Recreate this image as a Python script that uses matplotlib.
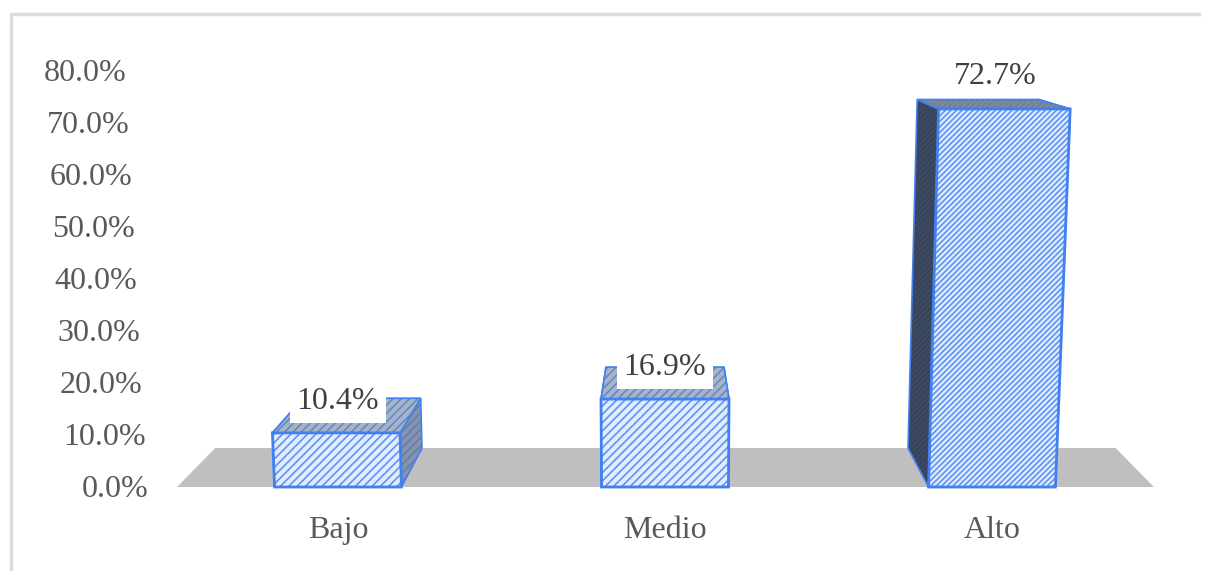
import matplotlib
matplotlib.use('Agg')
import matplotlib.pyplot as plt
from matplotlib.patches import Polygon
from matplotlib.lines import Line2D

categories = ['Bajo', 'Medio', 'Alto']
values = [10.4, 16.9, 72.7]
value_labels = ['10.4%', '16.9%', '72.7%']
y_ticks = [0, 10, 20, 30, 40, 50, 60, 70, 80]
y_tick_labels = ['0.0%', '10.0%', '20.0%', '30.0%', '40.0%', '50.0%', '60.0%', '70.0%', '80.0%']

TEXT = '#595959'
EDGE = '#4080f0'
FACE = '#e2ecff'
FACE_HATCH = '#5d93f2'
SIDE = ['#8793a8', '#8793a8', '#3d4a62']
SIDE_HATCH = ['#5f7fb8', '#5f7fb8', '#35425a']
TOP = ['#aab3c4', '#aab3c4', '#7f8a9e']
TOP_HATCH = ['#5f8ad0', '#5f8ad0', '#6f7f9c']
HATCH = ['////', '////', '//////']

# fake 3d: vanishing point, depth of the box, spread of the front plane with height
VP_X, VP_Y = 1.0, 96.0
DEPTH = 0.078
SPREAD = 0.00052
HALF_W = 0.194


def front(x, y):
    return 1 + (x - 1) * (1 + SPREAD * y), y


def back(x, y):
    fx, fy = front(x, y)
    return fx + (VP_X - fx) * DEPTH, fy + (VP_Y - fy) * DEPTH


def hatched(ax, pts, fc, hc, hatch, lw, z):
    # hatch takes the edge colour, so fill and outline are two patches
    ax.add_patch(Polygon(pts, closed=True, facecolor=fc, edgecolor=hc, lw=0, hatch=hatch, zorder=z))
    ax.add_patch(Polygon(pts, closed=True, fill=False, edgecolor=EDGE, lw=lw, zorder=z))


plt.rcParams['font.family'] = ['Liberation Serif', 'DejaVu Serif']
plt.rcParams['hatch.linewidth'] = 1.2

fig = plt.figure(figsize=(12.09, 5.71), dpi=100)
ax = fig.add_axes([0, 0, 1, 1])
ax.set_xlim(1 - 665 / 327, 1 + 544 / 327)
ax.set_ylim(-84 / 5.2, 487 / 5.2)
ax.axis('off')

# grey frame of the pasted chart
fig.add_artist(Line2D([0.009, 0.009, 0.992], [0, 0.975, 0.975], color='#dcdcdc', lw=2.5))

# floor
floor_l, floor_r = -0.492, 2.495
floor = [front(floor_l, 0), front(floor_r, 0), back(floor_r, 0), back(floor_l, 0)]
ax.add_patch(Polygon(floor, closed=True, facecolor='#bfbfbf', edgecolor='none', zorder=1))

for i, (name, val) in enumerate(zip(categories, values)):
    l, r = i - HALF_W, i + HALF_W
    for side_x in (l, r):
        side = [front(side_x, 0), front(side_x, val), back(side_x, val), back(side_x, 0)]
        hatched(ax, side, SIDE[i], SIDE_HATCH[i], HATCH[i], 1.2, 2)
    top = [front(l, val), front(r, val), back(r, val), back(l, val)]
    hatched(ax, top, TOP[i], TOP_HATCH[i], HATCH[i], 1.2, 3)
    face = [front(l, 0), front(r, 0), front(r, val), front(l, val)]
    hatched(ax, face, FACE, FACE_HATCH, HATCH[i], 2, 4)
    # category label under the bar
    ax.text(i, -8.4, name, ha='center', va='center', fontsize=23, color=TEXT, zorder=6)

# value labels sit on white boxes that cover the back of the bar
label_x = [0, 1, 2.01]
label_y = [16.5, 23.0, 79.0]
for x, y, txt in zip(label_x, label_y, value_labels):
    ax.text(x, y, txt, ha='center', va='center', fontsize=23, color='#404040', zorder=5,
            bbox=dict(facecolor='white', edgecolor='none', pad=5))

# tick labels lean with the front plane
for tick, txt in zip(y_ticks, y_tick_labels):
    x, y = front(-0.581, tick - 0.5)
    ax.text(x, y, txt, ha='right', va='center', fontsize=23, color=TEXT)

fig.savefig('out.png', dpi=100)
plt.close(fig)
